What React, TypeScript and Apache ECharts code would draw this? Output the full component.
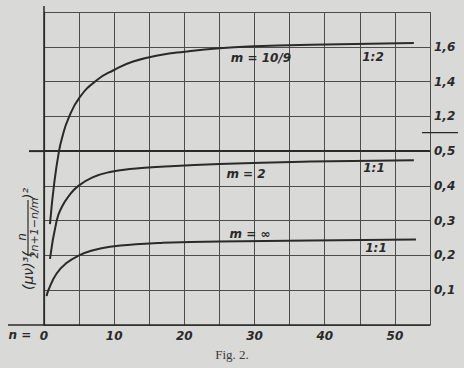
import React, { useEffect, useRef } from 'react';
import * as echarts from 'echarts';

// x axis (n)
const xLabelValues = [0, 10, 20, 30, 40, 50];
// right axis: lower scale 0..0.5, upper scale (broken) 1.2..1.6 at plot positions 0.6..0.8
const yTickPositions = [0.1, 0.2, 0.3, 0.4, 0.5, 0.6, 0.7, 0.8];
const yTickLabels = ['0,1', '0,2', '0,3', '0,4', '0,5', '1,2', '1,4', '1,6'];

// m = 10/9 (read on the upper scale, ratio 1:2)
const nM109 = [0.85, 1.47, 2.14, 2.6, 3.4, 5.1, 7.6, 9.9, 12.7, 16.6, 20, 25, 30, 38, 52.7];
const vM109 = [0.58, 0.82, 1.0, 1.08, 1.18, 1.31, 1.41, 1.465, 1.515, 1.553, 1.572, 1.592, 1.603, 1.612, 1.622];

// m = 2 (lower scale, ratio 1:1)
const nM2 = [0.85, 1.8, 2.5, 3.5, 4.9, 7, 9.4, 12.7, 16.6, 25, 38, 52.7];
const vM2 = [0.19, 0.3, 0.338, 0.37, 0.4, 0.425, 0.44, 0.449, 0.455, 0.463, 0.47, 0.474];

// m = infinity (lower scale, ratio 1:1)
const nMinf = [0.38, 0.62, 1.8, 3.2, 5, 7, 9.4, 13.7, 16.6, 25, 38, 53];
const vMinf = [0.083, 0.1, 0.148, 0.178, 0.2, 0.215, 0.225, 0.233, 0.236, 0.24, 0.243, 0.246];

// upper scale: plot position 0.5 <-> 1.0, 0.1 step <-> 0.2
const upper = (v: number) => 0.5 + (v - 1.0) / 2;

const INK = '#2a2a2a';
const GRID = '#4d4d4d';
const PAPER = '#d9d9d7';
const HAND = "'DejaVu Sans', sans-serif";

export default function App() {
  const ref = useRef<HTMLDivElement>(null);
  useEffect(() => {
    document.body.style.margin = '0';
    document.body.style.background = PAPER;
    const chart = echarts.init(ref.current!, null, { renderer: 'svg' });
    const lineSeries = (name: string, xs: number[], ys: number[], map?: (v: number) => number) => ({
      name,
      type: 'line',
      data: xs.map((x, i) => [x, map ? map(ys[i]) : ys[i]]),
      showSymbol: false,
      smooth: 0.5,
      lineStyle: { color: INK, width: 2 },
      silent: true,
    });
    chart.setOption({
      animation: false,
      backgroundColor: PAPER,
      grid: { left: 44, right: 34, top: 12, bottom: 43 },
      xAxis: {
        type: 'value',
        min: 0,
        max: 55,
        interval: 5,
        axisLine: { show: true, lineStyle: { color: INK, width: 1.5 } },
        axisTick: { show: false },
        splitLine: { show: true, lineStyle: { color: GRID, width: 1 } },
        axisLabel: {
          showMinLabel: true,
          showMaxLabel: true,
          margin: 5,
          color: INK,
          fontFamily: HAND,
          fontStyle: 'italic',
          fontWeight: 'bold',
          fontSize: 12,
          formatter: (v: number) => (xLabelValues.includes(Math.round(v)) ? String(Math.round(v)) : ''),
        },
      },
      yAxis: {
        type: 'value',
        position: 'right',
        min: 0,
        max: 0.9,
        interval: 0.1,
        axisLine: { show: true, lineStyle: { color: INK, width: 1.2 } },
        axisTick: { show: false },
        splitLine: { show: true, lineStyle: { color: GRID, width: 1 } },
        axisLabel: {
          showMinLabel: true,
          showMaxLabel: true,
          margin: 4,
          color: INK,
          fontFamily: HAND,
          fontStyle: 'italic',
          fontWeight: 'bold',
          fontSize: 12,
          formatter: (v: number) => {
            const i = yTickPositions.findIndex((p) => Math.abs(p - v) < 1e-6);
            return i >= 0 ? yTickLabels[i] : '';
          },
        },
      },
      series: [
        {
          ...lineSeries('m=10/9', nM109, vM109, upper),
          markLine: {
            silent: true,
            symbol: 'none',
            label: { show: false },
            lineStyle: { color: INK, width: 2, type: 'solid' },
            data: [{ yAxis: 0.5 }],
          },
        },
        lineSeries('m=2', nM2, vM2),
        lineSeries('m=inf', nMinf, vMinf),
      ],
    });

    const px = (x: number, y: number) => chart.convertToPixel({ gridIndex: 0 }, [x, y]) as number[];
    const [x0, y05] = px(0, 0.5);
    const [x55, yBottom] = px(55, 0);
    const yTop = px(0, 0.9)[1];
    const yBreak = px(0, 0.553)[1];
    const hand = (text: string, x: number, y: number, size = 12) => ({
      type: 'text',
      x,
      y,
      style: {
        text,
        fill: INK,
        font: `italic bold ${size}px ${HAND}`,
        textAlign: 'center',
        textVerticalAlign: 'middle',
      },
      silent: true,
    });
    chart.setOption({
      graphic: [
        { type: 'line', shape: { x1: x0 - 15, y1: y05, x2: x0, y2: y05 }, style: { stroke: INK, lineWidth: 2 } },
        { type: 'line', shape: { x1: x0 - 36, y1: yBottom, x2: x0, y2: yBottom }, style: { stroke: INK, lineWidth: 1.5 } },
        { type: 'line', shape: { x1: x0, y1: yTop - 6, x2: x0, y2: yBottom }, style: { stroke: INK, lineWidth: 1.5 } },
        { type: 'line', shape: { x1: x55 - 8, y1: yBreak, x2: x55 + 28, y2: yBreak }, style: { stroke: INK, lineWidth: 1.2 } },
        hand('m = 10/9', 261, 58, 12),
        hand('1:2', 373, 57, 12),
        hand('m = 2', 246, 174, 12),
        hand('1:1', 374, 168, 12),
        hand('m = ∞', 250, 234, 12),
        hand('1:1', 376, 248, 12),
        hand('n =', 20, 335, 12),
        {
          type: 'group',
          x: 28,
          y: 228,
          rotation: Math.PI / 2,
          silent: true,
          children: [
            { type: 'text', x: -62, y: 0, style: { text: '(μν)³(', fill: INK, font: `italic 14px ${HAND}`, textAlign: 'left', textVerticalAlign: 'middle' } },
            { type: 'text', x: -9, y: -6, style: { text: 'n', fill: INK, font: `italic 12px ${HAND}`, textAlign: 'center', textVerticalAlign: 'middle' } },
            { type: 'line', shape: { x1: -28, y1: 0, x2: 28, y2: 0 }, style: { stroke: INK, lineWidth: 1.2 } },
            { type: 'text', x: 0, y: 6.5, style: { text: '2n+1−n/m', fill: INK, font: `italic 11px ${HAND}`, textAlign: 'center', textVerticalAlign: 'middle' } },
            { type: 'text', x: 29, y: 0, style: { text: ')²', fill: INK, font: `italic 14px ${HAND}`, textAlign: 'left', textVerticalAlign: 'middle' } },
          ],
        },
        {
          type: 'text',
          x: 232,
          y: 354,
          silent: true,
          style: { text: 'Fig. 2.', fill: '#3a3a3a', font: "13px 'Liberation Serif', serif", textAlign: 'center', textVerticalAlign: 'middle' },
        },
      ],
    });
    return () => chart.dispose();
  }, []);
  return <div ref={ref} style={{ position: 'absolute', left: 0, top: 0, width: 464, height: 368 }} />;
}
